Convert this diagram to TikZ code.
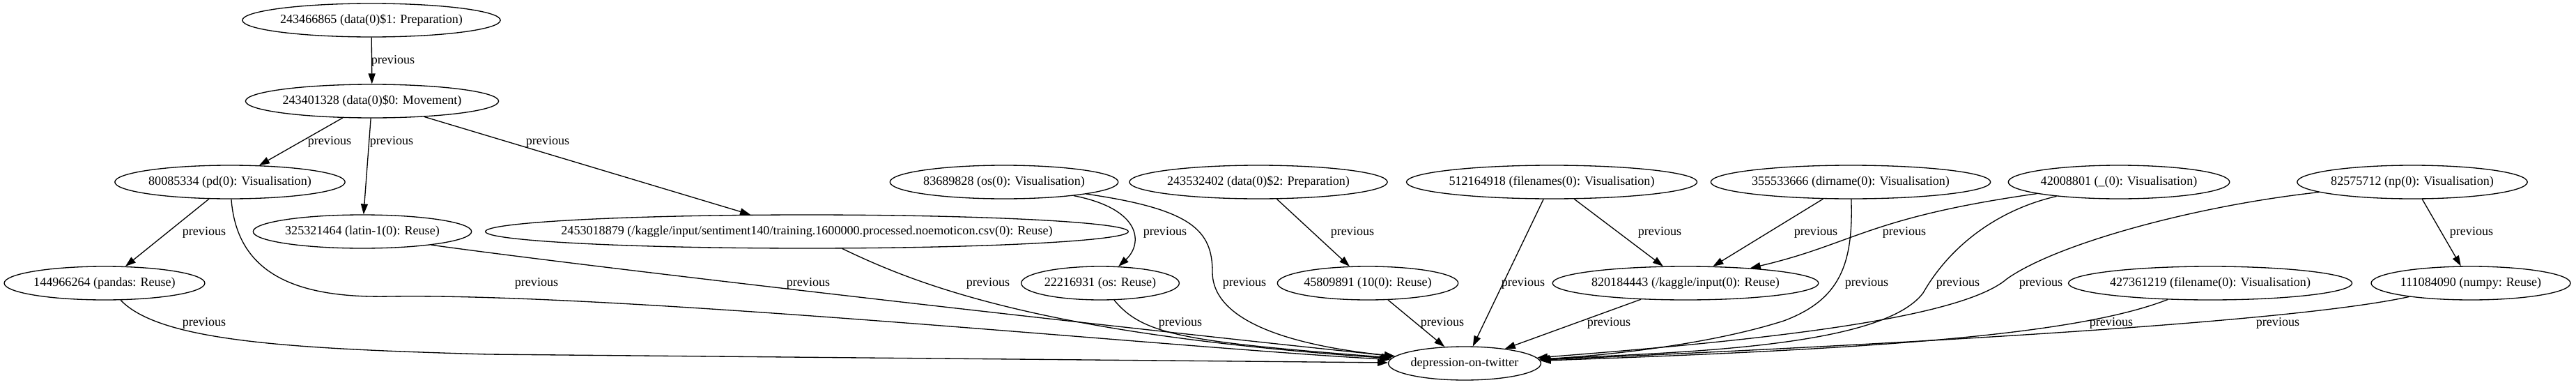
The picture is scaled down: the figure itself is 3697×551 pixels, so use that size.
\documentclass[tikz,border=0pt]{standalone}
\usepackage{fontspec}
\setmainfont{Liberation Serif}
\usetikzlibrary{shapes.geometric,arrows.meta}

\begin{document}
\begin{tikzpicture}[x=0.02cm, y=-0.02cm,
  every node/.style={font=\fontsize{10.3}{12}\selectfont},
  op/.style={draw, ellipse, line width=0.75pt, inner sep=0pt, minimum height=0.96cm},
  lbl/.style={inner sep=0pt},
  prev/.style={line width=0.75pt, -{Triangle[length=8.5pt, width=5.7pt]}}]
  \useasboundingbox (0,0) rectangle (3697,551);

  % operations
  \node[op] (prepA) at (533,29) {243466865 (data(0)\$1: Preparation)};
  \node[op] (moveB) at (534,145) {243401328 (data(0)\$0: Movement)};
  \node[op] (pdVis) at (330,261) {80085334 (pd(0): Visualisation)};
  \node[op] (osVis) at (1441,261) {83689828 (os(0): Visualisation)};
  \node[op] (prepC) at (1806,261) {243532402 (data(0)\$2: Preparation)};
  \node[op] (fnsVis) at (2227,261) {512164918 (filenames(0): Visualisation)};
  \node[op] (dirVis) at (2656,261) {355533666 (dirname(0): Visualisation)};
  \node[op] (undVis) at (3041,261) {42008801 (\_(0): Visualisation)};
  \node[op] (npVis) at (3462,261) {82575712 (np(0): Visualisation)};
  \node[op] (latinRe) at (520,332) {325321464 (latin-1(0): Reuse)};
  \node[op, inner xsep=-15pt] (csvRe) at (1158,332) {2453018879 (/kaggle/input/sentiment140/training.1600000.processed.noemoticon.csv(0): Reuse)};
  \node[op] (pandasRe) at (150,406) {144966264 (pandas: Reuse)};
  \node[op] (osRe) at (1579,406) {22216931 (os: Reuse)};
  \node[op] (tenRe) at (1963,406) {45809891 (10(0): Reuse)};
  \node[op] (inputRe) at (2419,406) {820184443 (/kaggle/input(0): Reuse)};
  \node[op] (fnVis) at (3172,406) {427361219 (filename(0): Visualisation)};
  \node[op] (numpyRe) at (3546,406) {111084090 (numpy: Reuse)};
  \node[op] (dot) at (2102,521) {depression-on-twitter};

  % edges
  \draw[prev] (prepA) -- (moveB);
  \draw[prev] (moveB) -- (pdVis);
  \draw[prev] (moveB) -- (latinRe);
  \draw[prev] (moveB) -- (csvRe);
  \draw[prev] (pdVis) -- (pandasRe);
  \draw[prev] (pdVis) .. controls (340,390) and (420,428) .. (560,425) .. controls (900,420) and (1700,500) .. (dot);
  \draw[prev] (pandasRe) .. controls (230,490) and (420,500) .. (700,508) -- (dot);
  \draw[prev] (latinRe.-11) .. controls (900,390) and (1700,480) .. (dot);
  \draw[prev] (csvRe) .. controls (1320,410) and (1500,480) .. (dot);
  \draw[prev] (osVis) .. controls (1640,300) and (1640,350) .. (osRe);
  \draw[prev] (osVis) .. controls (1710,300) and (1740,330) .. (1740,390) .. controls (1740,460) and (1850,495) .. (dot);
  \draw[prev] (osRe) .. controls (1640,480) and (1700,490) .. (dot);
  \draw[prev] (prepC) -- (tenRe);
  \draw[prev] (tenRe) -- (dot);
  \draw[prev] (fnsVis) -- (dot);
  \draw[prev] (fnsVis) -- (inputRe);
  \draw[prev] (dirVis) -- (inputRe);
  \draw[prev] (dirVis) .. controls (2660,380) and (2640,430) .. (2560,460) .. controls (2450,495) and (2300,510) .. (dot);
  \draw[prev] (undVis) .. controls (2680,312) and (2660,350) .. (inputRe);
  \draw[prev] (undVis) .. controls (2870,300) and (2800,350) .. (2760,420) .. controls (2700,500) and (2400,505) .. (dot);
  \draw[prev] (npVis) -- (numpyRe);
  \draw[prev] (npVis) .. controls (3150,295) and (2950,350) .. (2880,400) .. controls (2810,460) and (2500,490) .. (dot);
  \draw[prev] (inputRe) -- (dot);
  \draw[prev] (fnVis) .. controls (2980,480) and (2700,500) .. (dot);
  \draw[prev] (numpyRe) .. controls (3300,460) and (2800,490) .. (dot);

  % edge labels
  \node[lbl] (l1) at (564,87) {previous};
  \node[lbl] (l2) at (473,203) {previous};
  \node[lbl] (l3) at (562,203) {previous};
  \node[lbl] (l4) at (786,203) {previous};
  \node[lbl] (l5) at (293,333) {previous};
  \node[lbl] (l6) at (770,406) {previous};
  \node[lbl] (l7) at (293,463) {previous};
  \node[lbl] (l8) at (1160,406) {previous};
  \node[lbl] (l9) at (1418,406) {previous};
  \node[lbl] (l10) at (1672,333) {previous};
  \node[lbl] (l11) at (1786,406) {previous};
  \node[lbl] (l12) at (1694,463) {previous};
  \node[lbl] (l13) at (1941,333) {previous};
  \node[lbl] (l14) at (2070,463) {previous};
  \node[lbl] (l15) at (2186,406) {previous};
  \node[lbl] (l16) at (2382,333) {previous};
  \node[lbl] (l17) at (2606,333) {previous};
  \node[lbl] (l18) at (2679,406) {previous};
  \node[lbl] (l19) at (2733,333) {previous};
  \node[lbl] (l20) at (2810,406) {previous};
  \node[lbl] (l21) at (3547,333) {previous};
  \node[lbl] (l22) at (2929,406) {previous};
  \node[lbl] (l23) at (2309,463) {previous};
  \node[lbl] (l24) at (3030,463) {previous};
  \node[lbl] (l25) at (3269,463) {previous};
\end{tikzpicture}
\end{document}
